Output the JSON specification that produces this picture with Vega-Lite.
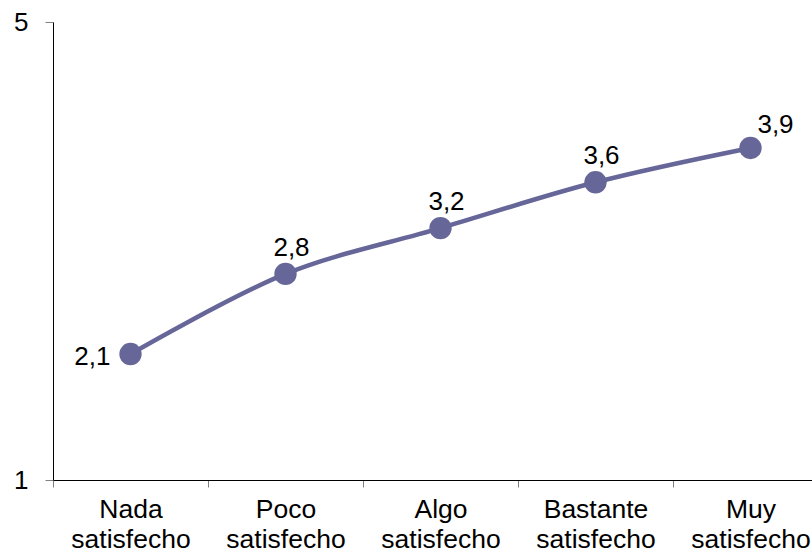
{
  "$schema": "https://vega.github.io/schema/vega-lite/v6.json",
  "autosize": {"type": "none"},
  "width": 759,
  "height": 458,
  "padding": {"left": 53, "top": 22, "right": 0, "bottom": 74},
  "background": "white",
  "config": {"view": {"stroke": null}, "font": "Liberation Sans"},
  "data": {"values": [
    {"cat": "Nada satisfecho", "value": 2.1, "label": "2,1"},
    {"cat": "Poco satisfecho", "value": 2.8, "label": "2,8"},
    {"cat": "Algo satisfecho", "value": 3.2, "label": "3,2"},
    {"cat": "Bastante satisfecho", "value": 3.6, "label": "3,6"},
    {"cat": "Muy satisfecho", "value": 3.9, "label": "3,9"}
  ]},
  "encoding": {
    "x": {"field": "cat", "type": "nominal", "sort": null,
      "scale": {"type": "band", "range": [0, 775], "paddingInner": 0, "paddingOuter": 0},
      "axis": {"title": null, "labelAngle": 0, "tickBand": "extent", "tickSize": 7, "tickColor": "#808080",
        "domainColor": "black", "labelFontSize": 26.5, "labelLineHeight": 30, "labelPadding": 9,
        "labelColor": "black", "labelExpr": "split(datum.label, ' ')", "labelFont": "Liberation Sans"}},
    "y": {"field": "value", "type": "quantitative",
      "scale": {"domain": [1, 5], "nice": false, "zero": false},
      "axis": {"title": null, "values": [1, 5], "grid": false, "tickSize": 8, "tickColor": "#808080",
        "domainColor": "black", "labelFontSize": 26, "labelPadding": 17, "labelColor": "black", "labelFont": "Liberation Sans"}}
  },
  "layer": [
    {"mark": {"type": "line", "color": "#666699", "strokeWidth": 4.5, "interpolate": "catmull-rom"}},
    {"mark": {"type": "point", "filled": true, "color": "#666699", "size": 500, "opacity": 1}},
    {"transform": [{"filter": "datum.cat == 'Nada satisfecho'"}],
      "mark": {"type": "text", "fontSize": 26, "align": "right", "baseline": "alphabetic", "dx": -20, "dy": 11, "color": "black"},
      "encoding": {"text": {"field": "label"}}},
    {"transform": [{"filter": "datum.cat != 'Nada satisfecho' && datum.cat != 'Muy satisfecho'"}],
      "mark": {"type": "text", "fontSize": 26, "align": "center", "baseline": "alphabetic", "dx": 6, "dy": -18, "color": "black"},
      "encoding": {"text": {"field": "label"}}},
    {"transform": [{"filter": "datum.cat == 'Muy satisfecho'"}],
      "mark": {"type": "text", "fontSize": 26, "align": "center", "baseline": "alphabetic", "dx": 25, "dy": -15, "color": "black"},
      "encoding": {"text": {"field": "label"}}}
  ]
}
